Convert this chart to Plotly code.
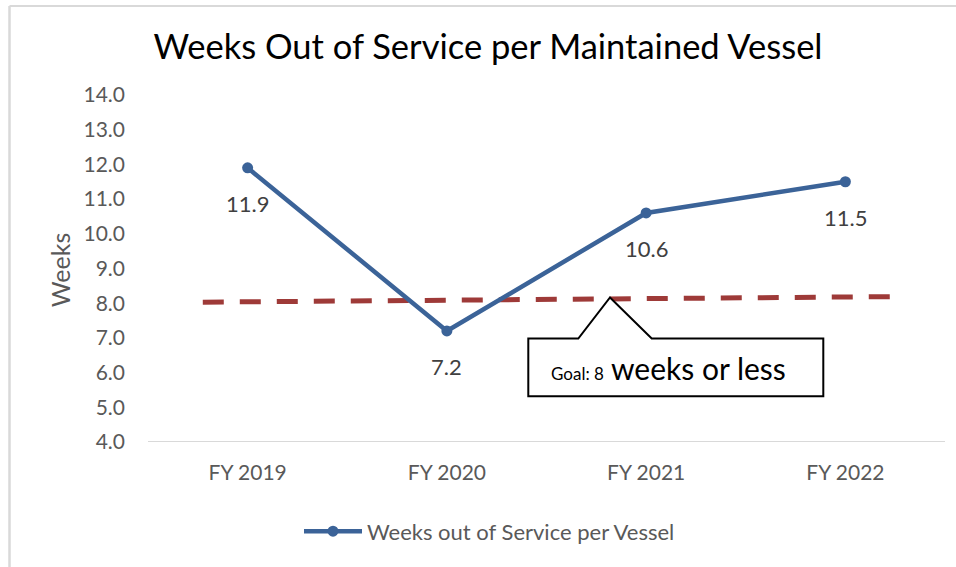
import plotly.graph_objects as go

# ---- data ----
categories = ["FY 2019", "FY 2020", "FY 2021", "FY 2022"]
weeks_out = [11.9, 7.2, 10.6, 11.5]
goal_values = [8.03, 8.19]          # hand-drawn goal line, slightly tilted
y_ticks = [4, 5, 6, 7, 8, 9, 10, 11, 12, 13, 14]
title_text = "Weeks Out of Service per Maintained Vessel"
series_name = "Weeks out of Service per Vessel"

FONT = "Lato"
W, H = 956, 567
ML, MR, MT, MB = 148, 11, 95, 125.3
PW, PH = W - ML - MR, H - MT - MB


def px(x):
    return (x - ML) / PW


def py(y):
    return (H - MB - y) / PH


x_idx = list(range(len(categories)))

fig = go.Figure()

# goal line
fig.add_trace(go.Scatter(
    x=[-0.225, 3.25], y=goal_values, mode="lines",
    line=dict(color="#9E3A38", width=5, dash="21px,16px"),
    showlegend=False, hoverinfo="skip"))

# main series
fig.add_trace(go.Scatter(
    x=x_idx, y=weeks_out, mode="lines+markers", name=series_name,
    line=dict(color="#3B6398", width=4.5),
    marker=dict(color="#3B6398", size=11)))

# data labels
for i, v in zip(x_idx, weeks_out):
    fig.add_annotation(x=i, y=v, text=f"{v:.1f}", showarrow=False,
                       yshift=-36, font=dict(family=FONT, size=22, color="#404040"))

# callout box with pointer
box = [(528.3, 338.3), (578.3, 338.3), (610, 297.3), (651.7, 338.3),
       (823.3, 338.3), (823.3, 396), (528.3, 396)]
path = "M " + " L ".join(f"{px(a):.5f},{py(b):.5f}" for a, b in box) + " Z"
fig.add_shape(type="path", path=path, xref="paper", yref="paper",
              line=dict(color="black", width=2), fillcolor="white", layer="above")
fig.add_annotation(
    xref="paper", yref="paper", x=px(549), y=py(368), xanchor="left", yanchor="middle",
    showarrow=False,
    text="<span style='font-size:17px'>Goal: 8</span> weeks or less",
    font=dict(family=FONT, size=30, color="black"))

# y-axis title
fig.add_annotation(xref="paper", yref="paper", x=px(60), y=py(270), textangle=-90,
                   xanchor="center", yanchor="middle",
                   showarrow=False, text="Weeks",
                   font=dict(family=FONT, size=25, color="#595959"))

# outer chart border (left & top)
fig.add_shape(type="line", xref="paper", yref="paper", x0=px(9.5), x1=px(9.5),
              y0=py(6), y1=py(600), line=dict(color="#D9D9D9", width=2.5))
fig.add_shape(type="line", xref="paper", yref="paper", x0=px(9.5), x1=px(1000),
              y0=py(6), y1=py(6), line=dict(color="#D9D9D9", width=2))

fig.update_layout(
    width=W, height=H,
    margin=dict(l=ML, r=MR, t=MT, b=MB),
    paper_bgcolor="white", plot_bgcolor="white",
    title=dict(text=title_text, x=488 / W, xanchor="center", y=1 - 47 / H, yanchor="middle",
               xref="container", yref="container",
               font=dict(family=FONT, size=34.5, color="black")),
    xaxis=dict(range=[-0.5, 3.5], tickvals=x_idx, ticktext=categories,
               showgrid=False, zeroline=False, showline=False,
               tickfont=dict(family=FONT, size=21, color="#595959"),
               ticklabelstandoff=16, fixedrange=True),
    yaxis=dict(range=[4, 14], tickvals=y_ticks, ticktext=[f"{t:.1f}" for t in y_ticks],
               showgrid=False, zeroline=False, showline=False,
               tickfont=dict(family=FONT, size=21, color="#595959"),
               ticklabelstandoff=22, fixedrange=True),
    legend=dict(orientation="h", x=px(299), xanchor="left", y=py(531), yanchor="middle",
                font=dict(family=FONT, size=22, color="#595959"),
                itemwidth=58, bgcolor="rgba(0,0,0,0)"),
    showlegend=True,
)

# bottom axis line (drawn as shape spanning plot width at y=4)
fig.add_shape(type="line", xref="paper", yref="y", x0=0, x1=1, y0=4, y1=4,
              line=dict(color="#D9D9D9", width=2), layer="below")

fig.write_html("out.html", config={"displayModeBar": False},
               post_script="document.body.style.margin='0';document.body.style.overflow='hidden';")
